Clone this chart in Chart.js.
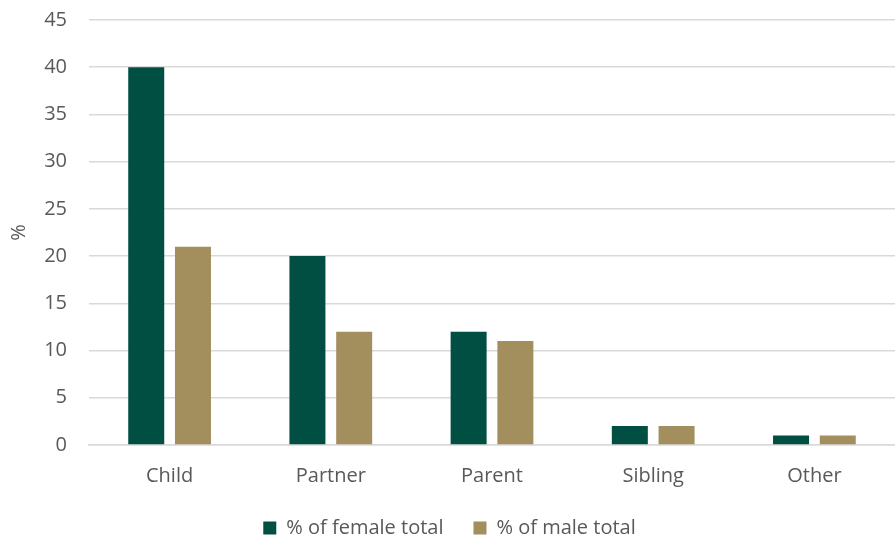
<!DOCTYPE html>
<html>
<head>
<meta charset="utf-8">
<script src="https://cdn.jsdelivr.net/npm/chart.js@4/dist/chart.umd.min.js"></script>
<style>
  body { margin: 0; background: #fff; }
  #wrap { width: 895px; height: 538px; }
</style>
</head>
<body>
<div id="wrap"><canvas id="grafico" width="895" height="538"></canvas></div>
<script>
// datos del gráfico
const categorias = ["Child", "Partner", "Parent", "Sibling", "Other"];
const mujeres = [40, 20, 12, 2, 1];
const hombres = [21, 12, 11, 2, 1];
const ticksY = [0, 5, 10, 15, 20, 25, 30, 35, 40, 45];

const fuente = "'Open Sans', 'Noto Sans', sans-serif";
const gris = "#595959";

// la leyenda de abajo ocupa menos alto que el que pide su padding
const leyendaCompacta = {
    id: "leyendaCompacta",
    afterInit(chart) {
        const ley = chart.legend;
        const fitOrig = ley.fit;
        ley.fit = function () {
            fitOrig.call(this);
            this.height -= 21;
        };
        // se dibuja un poco más arriba, sin recorte
        ley.draw = function () {
            if (!this.options.display) return;
            const ctx = this.ctx;
            ctx.save();
            ctx.translate(0, -11);
            this._draw();
            ctx.restore();
        };
    }
};

new Chart(document.getElementById("grafico").getContext("2d"), {
    type: "bar",
    data: {
        labels: categorias,
        datasets: [
            { label: "% of female total", data: mujeres, backgroundColor: "#004F42" },
            { label: "% of male total", data: hombres, backgroundColor: "#A38F5E" }
        ]
    },
    plugins: [leyendaCompacta],
    options: {
        responsive: false,
        animation: false,
        layout: { padding: { top: 0, right: 0, left: 4, bottom: 0 } },
        datasets: { bar: { categoryPercentage: 0.58, barPercentage: 0.77 } },
        scales: {
            x: {
                grid: { display: false },
                border: { color: "#d9d9d9", width: 1.5 },
                ticks: { color: gris, font: { family: fuente, size: 20 }, padding: 11 }
            },
            y: {
                min: 0, max: 45,
                afterBuildTicks: (ax) => { ax.ticks = ticksY.map(v => ({ value: v })); },
                afterFit: (ax) => { ax.width = 85; ax.paddingTop = 20; },
                grid: { color: "#d9d9d9", lineWidth: 1.5, drawTicks: false },
                border: { display: false },
                ticks: { color: gris, font: { family: fuente, size: 20 }, padding: 22 },
                title: { display: true, text: "%", color: gris, font: { family: fuente, size: 20 }, padding: { top: 3, bottom: 0 } }
            }
        },
        plugins: {
            legend: {
                position: "bottom",
                labels: { color: gris, font: { family: fuente, size: 20 }, boxWidth: 13, boxHeight: 13, padding: 30 }
            },
            tooltip: { enabled: false }
        }
    }
});
</script>
</body>
</html>
